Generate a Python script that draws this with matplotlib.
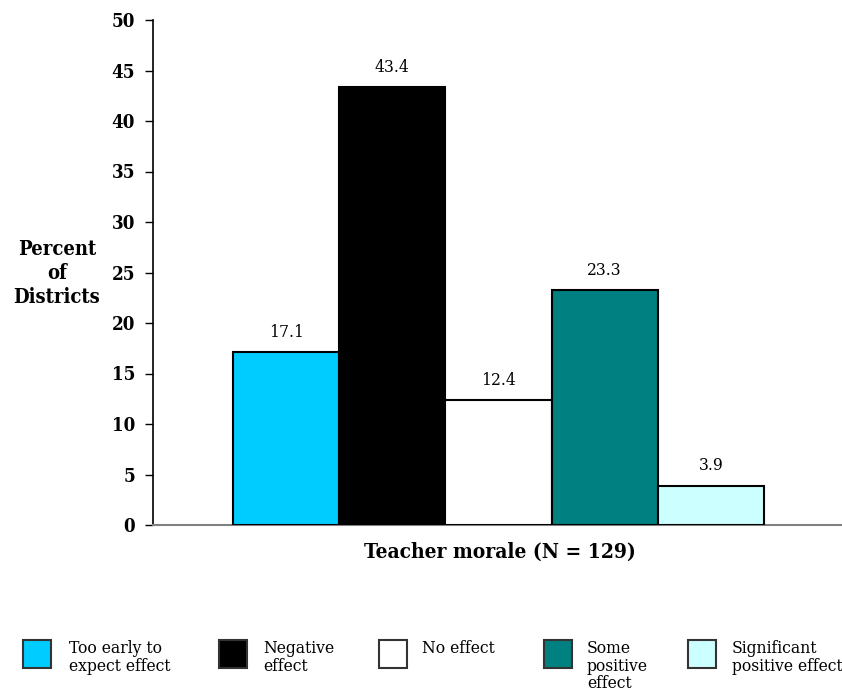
import matplotlib
matplotlib.use("Agg")
import matplotlib.pyplot as plt
from matplotlib.patches import Rectangle
from matplotlib import font_manager as fm

categories = ["Too early to\nexpect effect", "Negative\neffect", "No effect",
              "Some\npositive\neffect", "Significant\npositive effect"]
values = [17.1, 43.4, 12.4, 23.3, 3.9]
colors = ["#00CCFF", "#000000", "#FFFFFF", "#008080", "#CCFFFF"]
yticks = [0, 5, 10, 15, 20, 25, 30, 35, 40, 45, 50]
xlabel = "Teacher morale (N = 129)"
ylabel = "Percent\nof\nDistricts"

has_cond = any("DejaVuSerifCondensed" in f for f in fm.findSystemFonts())
STRETCH = "condensed" if has_cond else "normal"
SC = 1.0 if has_cond else 0.92

def fp(size, weight="normal"):
    return fm.FontProperties(family="DejaVu Serif", stretch=STRETCH, size=size*SC, weight=weight)

fig = plt.figure(figsize=(8.42, 6.96), dpi=100)
ax = fig.add_axes([153/842, 1-525/696, 1-153/842, (525-20)/696])

x = list(range(len(values)))
ax.bar(x, values, width=1.0, color=colors, edgecolor="black", linewidth=1.5, zorder=3)
for xi, v in zip(x, values):
    ax.annotate(f"{v:.1f}", (xi, v), xytext=(0, 8), textcoords="offset points",
                ha="center", va="bottom", fontproperties=fp(12.5, "medium"))

ax.set_xlim(-1.253, 5.235)
ax.set_ylim(0, 50)
ax.set_yticks(yticks)
ax.set_yticklabels([str(t) for t in yticks])
for lab in ax.get_yticklabels():
    lab.set_fontproperties(fp(13.5, "bold"))
ax.set_xticks([])
for s in ["top", "right"]:
    ax.spines[s].set_visible(False)
ax.spines["left"].set_color("black")
ax.spines["left"].set_linewidth(1.2)
ax.spines["bottom"].set_color("#808080")
ax.spines["bottom"].set_linewidth(1.5)
ax.tick_params(axis="y", length=6, width=1, pad=7)

fig.text(500/842, 1-552/696, xlabel, ha="center", va="center",
         fontproperties=fp(15, "bold"))
fig.text(57/842, 1-273/696, ylabel, ha="center", va="center",
         fontproperties=fp(14.5, "bold"), linespacing=1.22)

box_x = [23, 219, 379, 544, 688]
text_x = [69, 263, 422, 587, 732]
for bx, tx, c, lab in zip(box_x, text_x, colors, categories):
    fig.patches.append(Rectangle((bx/842, 1-668/696), 28/842, 28/696,
                                 transform=fig.transFigure, facecolor=c,
                                 edgecolor="#333333", linewidth=1.5))
    fig.text(tx/842, 1-640/696, lab, ha="left", va="top",
             fontproperties=fp(12.5), linespacing=1.05)

fig.savefig("out.png", dpi=100)
